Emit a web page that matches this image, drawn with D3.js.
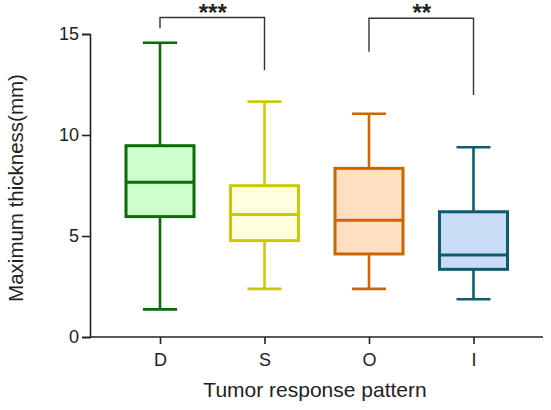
<!DOCTYPE html>
<html><head><meta charset="utf-8">
<script src="https://cdn.jsdelivr.net/npm/d3@7"></script>
<style>body{margin:0;background:#fff}svg{display:block}</style>
</head><body>
<script>
const categories = ["D","S","O","I"];
const whiskerLow = [1.37, 2.38, 2.38, 1.87];
const q1 = [5.96, 4.77, 4.11, 3.35];
const medians = [7.66, 6.07, 5.78, 4.06];
const q3 = [9.47, 7.49, 8.35, 6.20];
const whiskerHigh = [14.57, 11.65, 11.05, 9.39];
const strokeColors = ["#0b6b0b", "#c9c90a", "#cc6600", "#0e5a6e"];
const fillColors = ["#ccffcc", "#ffffe0", "#ffdfc2", "#c8dcf6"];
const yTicks = [0, 5, 10, 15];
// significance brackets
const sigFrom = ["D", "O"];
const sigTo = ["S", "I"];
const sigLeftEnd = [15.28, 14.12];
const sigRightEnd = [13.2, 11.98];
const sigTop = [15.82, 15.78];
const sigLabels = ["***", "**"];

const W = 551, H = 410;
const svg = d3.select("body").append("svg").attr("width", W).attr("height", H);
const font = "Liberation Sans, Arial, sans-serif";

const y = d3.scaleLinear().domain([0, 15]).range([337, 34]);
const x = d3.scalePoint().domain(categories).range([160, 473.5]);
const axisLeftX = 90, axisRightX = 543;

// Y axis
const yAxis = svg.append("g").attr("transform", `translate(${axisLeftX},0)`)
  .call(d3.axisLeft(y).tickValues(yTicks).tickSize(8).tickPadding(3));
yAxis.select(".domain").attr("stroke", "#222").attr("stroke-width", 1.6);
yAxis.selectAll(".tick line").attr("stroke", "#222").attr("stroke-width", 1.6);
yAxis.selectAll(".tick text").attr("font-family", font).attr("font-size", 18).attr("fill", "#222");

// X axis
const xAxis = svg.append("g").attr("transform", `translate(0,${y(0)})`)
  .call(d3.axisBottom(x).tickSize(7).tickPadding(9));
xAxis.select(".domain").remove();
xAxis.append("line").attr("x1", axisLeftX).attr("x2", axisRightX).attr("stroke", "#222").attr("stroke-width", 1.6);
xAxis.selectAll(".tick line").attr("stroke", "#222").attr("stroke-width", 1.6);
xAxis.selectAll(".tick text").attr("font-family", font).attr("font-size", 18).attr("fill", "#222");

// Axis titles
svg.append("text").attr("x", 315).attr("y", 397).attr("text-anchor", "middle")
  .attr("font-family", font).attr("font-size", 21).attr("fill", "#222").text("Tumor response pattern");
svg.append("text").attr("transform", "translate(23,188) rotate(-90)").attr("text-anchor", "middle")
  .attr("font-family", font).attr("font-size", 20.5).attr("fill", "#222").text("Maximum thickness(mm)");

// Boxes
const boxW = 68, capW = 34;
categories.forEach((c, i) => {
  const cx = x(c);
  const g = svg.append("g");
  const sc = strokeColors[i];
  g.append("line").attr("x1", cx).attr("x2", cx).attr("y1", y(whiskerHigh[i])).attr("y2", y(q3[i]))
    .attr("stroke", sc).attr("stroke-width", 2.6);
  g.append("line").attr("x1", cx).attr("x2", cx).attr("y1", y(q1[i])).attr("y2", y(whiskerLow[i]))
    .attr("stroke", sc).attr("stroke-width", 2.6);
  [whiskerHigh[i], whiskerLow[i]].forEach(v => {
    g.append("line").attr("x1", cx - capW / 2).attr("x2", cx + capW / 2).attr("y1", y(v)).attr("y2", y(v))
      .attr("stroke", sc).attr("stroke-width", 2.6);
  });
  g.append("rect").attr("x", cx - boxW / 2).attr("width", boxW)
    .attr("y", y(q3[i])).attr("height", y(q1[i]) - y(q3[i]))
    .attr("fill", fillColors[i]).attr("stroke", sc).attr("stroke-width", 3);
  g.append("line").attr("x1", cx - boxW / 2).attr("x2", cx + boxW / 2).attr("y1", y(medians[i])).attr("y2", y(medians[i]))
    .attr("stroke", sc).attr("stroke-width", 3);
});

// Significance brackets
sigFrom.forEach((f, i) => {
  const x1 = x(f), x2 = x(sigTo[i]);
  const pts = [[x1, y(sigLeftEnd[i])], [x1, y(sigTop[i])], [x2, y(sigTop[i])], [x2, y(sigRightEnd[i])]];
  svg.append("path").attr("d", d3.line()(pts)).attr("fill", "none").attr("stroke", "#333").attr("stroke-width", 1.4);
  svg.append("text").attr("x", (x1 + x2) / 2 + 0.5).attr("y", 21).attr("text-anchor", "middle")
    .attr("font-family", font).attr("font-size", 24).attr("font-weight", "bold").attr("fill", "#222").text(sigLabels[i]);
});
</script>
</body></html>
